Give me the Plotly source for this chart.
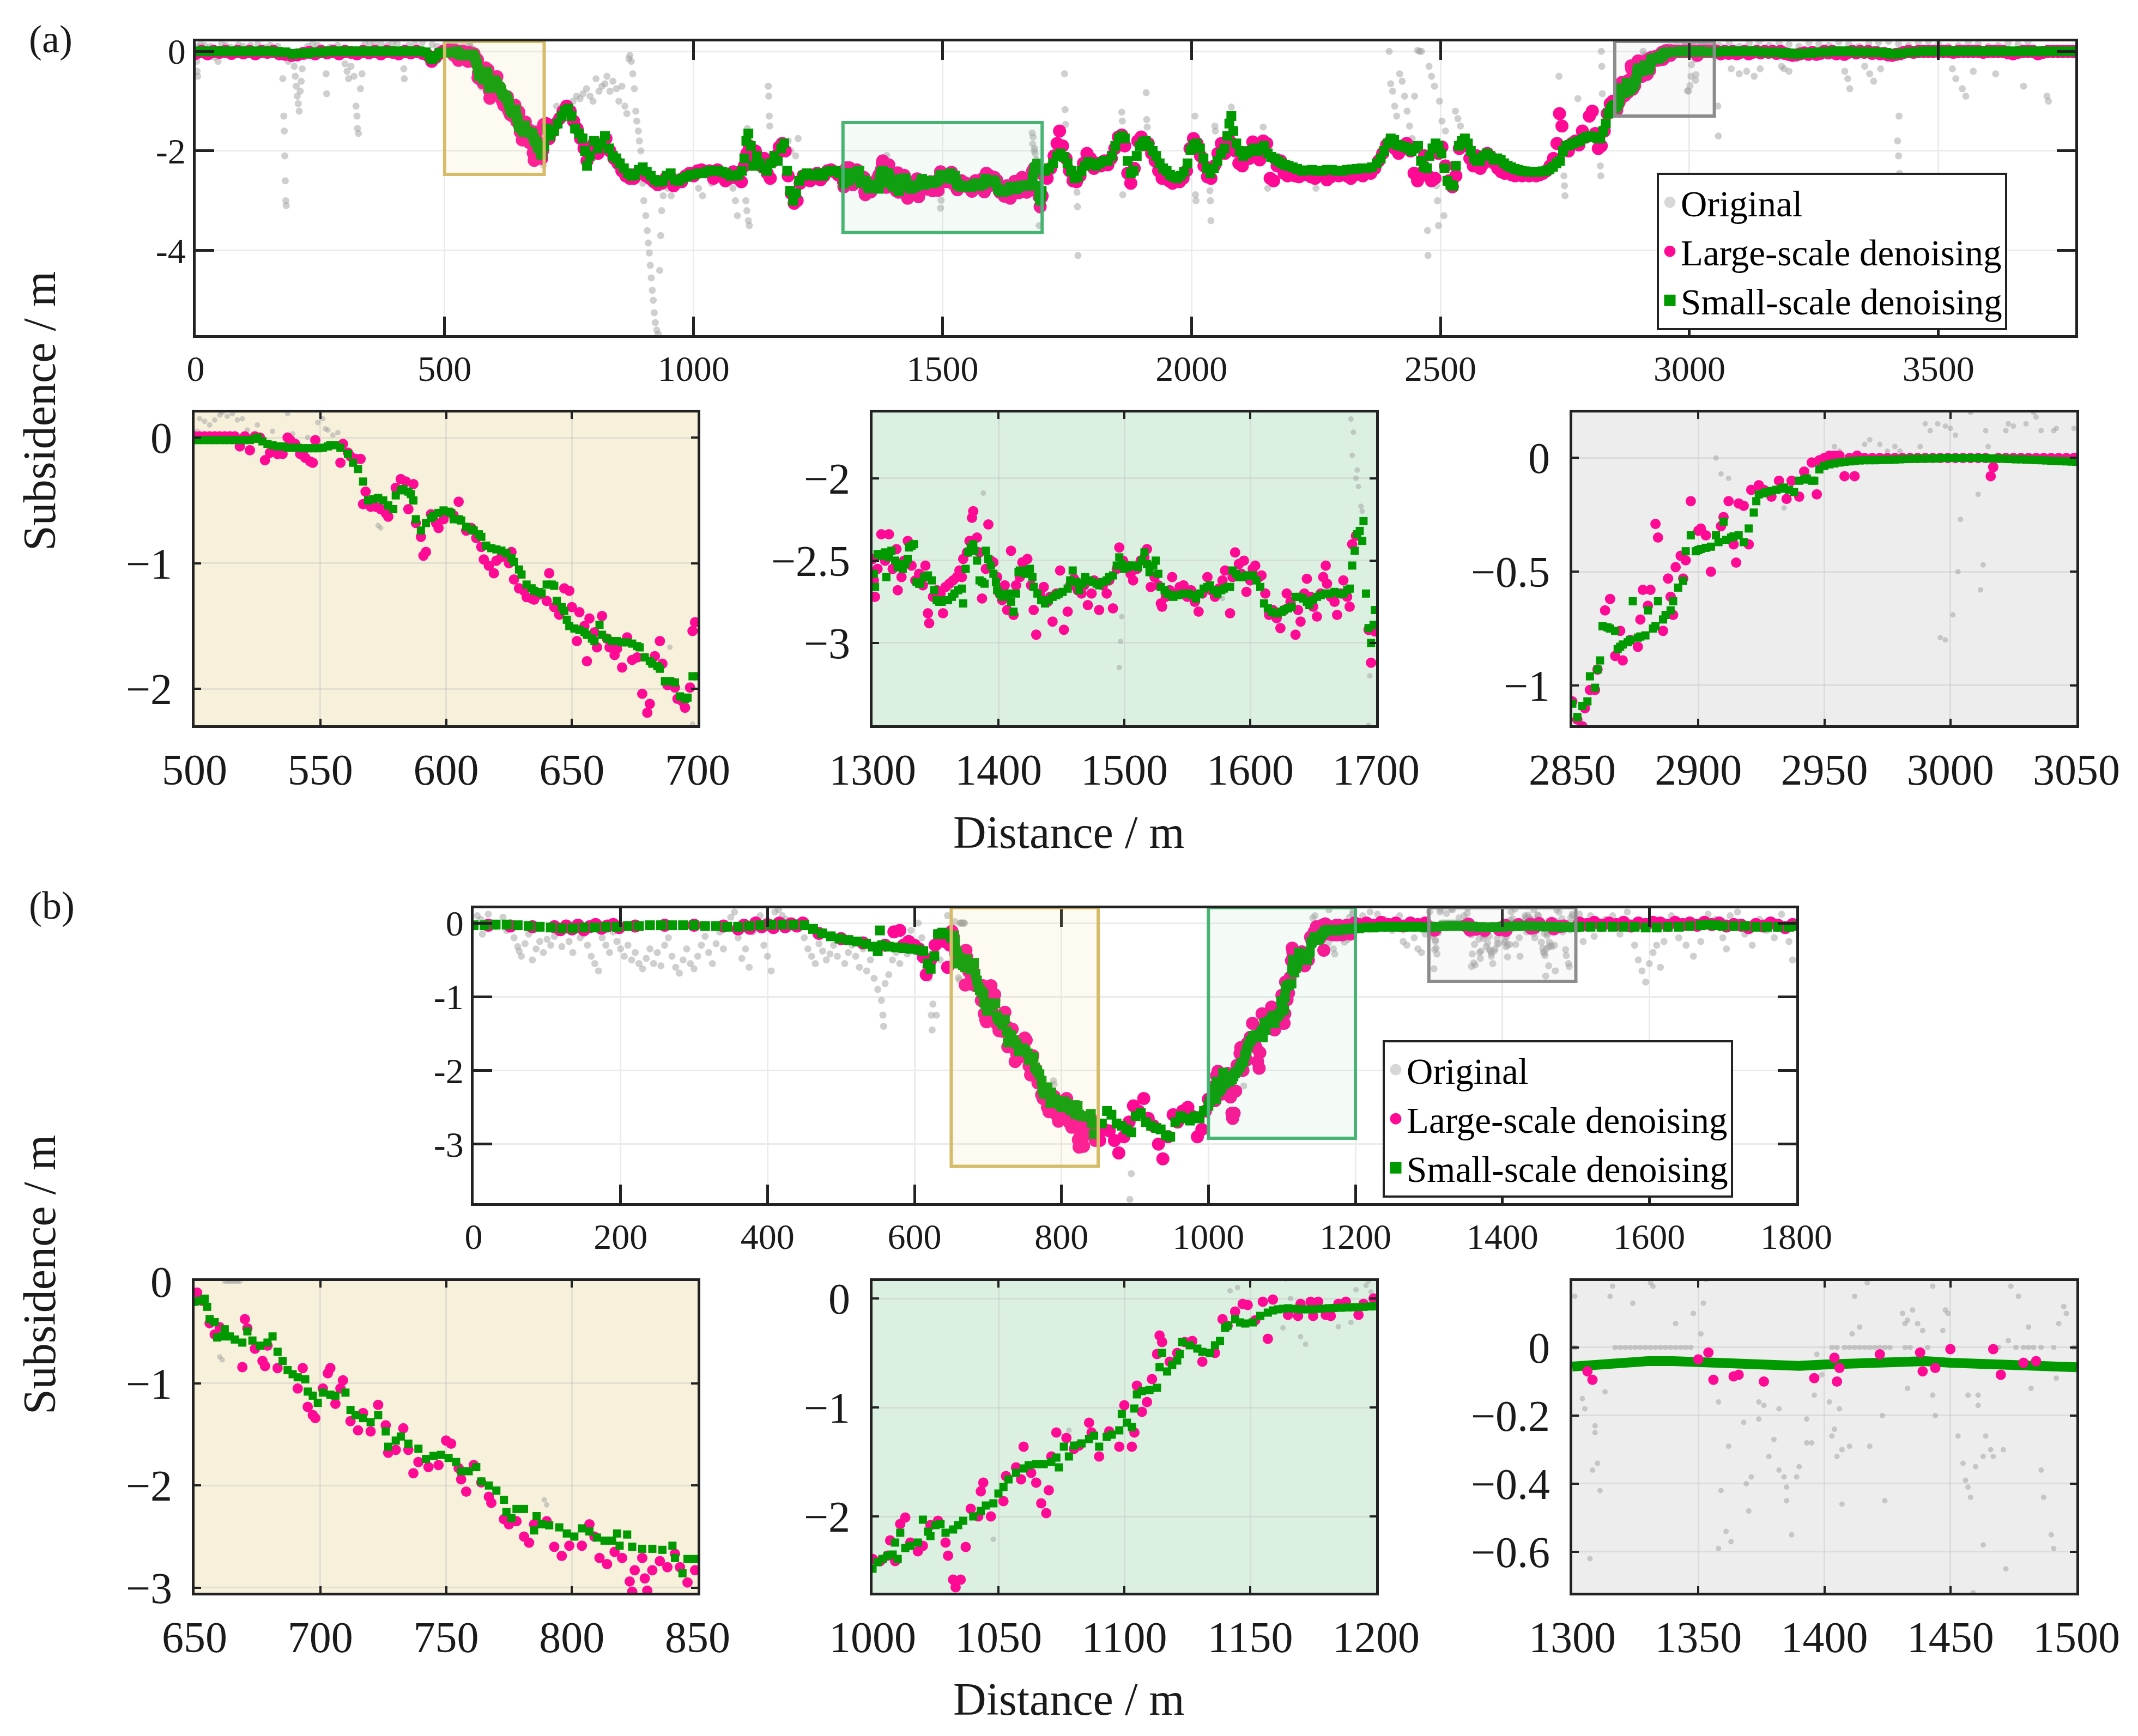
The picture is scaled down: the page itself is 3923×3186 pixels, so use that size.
import plotly.graph_objects as go

W, H = 3923, 3186
FONT = "Liberation Serif"
PINK = "#FF0A94"
GREEN = "#009A00"
GREY = "rgba(160,160,160,0.5)"
INK = "#1a1a1a"

LEGEND_LABELS = ["Original", "Large-scale denoising", "Small-scale denoising"]

# ---------------- Panel (a): main profile (points outside the zoomed windows) ----------------
A_MAIN_GREEN = [(0,0.0),(15,0.0),(30,0.0),(45,0.0),(60,0.0),(75,0.0),(90,0.0),(105,0.0),(120,0.0),(135,0.0),(150,0.0),(165,-0.01),(180,-0.02),(195,-0.05),(210,-0.04),(225,-0.03),(240,-0.02),(255,-0.01),(270,0.0),(285,0.0),(300,0.0),(315,0.0),(330,0.0),(345,0.0),(360,0.0),(375,0.0),(390,0.0),(405,0.0),(420,0.0),(435,0.0),(450,0.0),(462,-0.02),(470,-0.1),(475,-0.16),(482,-0.1),(490,-0.03),
(705,-1.55),(712,-1.7),(720,-1.6),(727,-1.45),(735,-1.3),(742,-1.2),(748,-1.15),(755,-1.3),(762,-1.55),(770,-1.65),(777,-1.75),(782,-2.0),(786,-2.3),(792,-2.1),(800,-1.8),(808,-1.95),(815,-1.85),(822,-1.7),(830,-1.95),(838,-2.1),(845,-2.15),(852,-2.25),(860,-2.35),(868,-2.45),(875,-2.5),(882,-2.48),(890,-2.38),(898,-2.33),(906,-2.42),(914,-2.5),(922,-2.58),(930,-2.62),(938,-2.6),(946,-2.5),(954,-2.45),(962,-2.58),(970,-2.6),(978,-2.55),(986,-2.52),(994,-2.48),(1002,-2.47),(1010,-2.45),(1018,-2.45),(1026,-2.42),(1034,-2.4),(1042,-2.4),(1050,-2.4),(1058,-2.42),(1066,-2.45),(1074,-2.5),(1082,-2.5),(1090,-2.48),(1097,-2.4),(1102,-2.15),(1106,-1.8),(1110,-1.65),(1115,-1.9),(1120,-2.3),(1127,-2.1),(1134,-2.25),(1141,-2.35),(1148,-2.4),(1155,-2.25),(1162,-2.1),(1169,-2.2),(1176,-1.95),(1182,-1.85),(1188,-2.4),(1194,-2.8),(1200,-3.0),(1206,-2.85),(1212,-2.6),(1220,-2.5),(1228,-2.45),(1236,-2.48),(1244,-2.5),(1252,-2.45),(1260,-2.5),(1268,-2.42),(1276,-2.4),(1284,-2.4),(1292,-2.45),
(1706,-2.4),(1714,-2.35),(1722,-2.25),(1730,-2.1),(1737,-2.05),(1744,-2.12),(1751,-2.25),(1758,-2.4),(1765,-2.55),(1772,-2.52),(1779,-2.4),(1786,-2.3),(1793,-2.22),(1800,-2.25),(1808,-2.3),(1816,-2.25),(1824,-2.2),(1832,-2.2),(1840,-2.1),(1847,-1.9),(1854,-1.75),(1860,-1.7),(1866,-1.75),(1872,-2.2),(1878,-2.45),(1884,-2.4),(1890,-2.1),(1896,-1.9),(1902,-1.82),(1908,-1.8),(1915,-1.9),(1922,-2.0),(1929,-2.1),(1936,-2.25),(1943,-2.35),(1950,-2.4),(1957,-2.48),(1964,-2.52),(1971,-2.55),(1978,-2.5),(1985,-2.42),(1992,-2.25),(1998,-1.98),(2004,-1.88),(2010,-1.85),(2017,-1.95),(2024,-2.15),(2031,-2.35),(2038,-2.45),(2045,-2.35),(2052,-2.2),(2059,-2.05),(2066,-1.95),(2072,-1.7),(2076,-1.45),(2080,-1.3),(2084,-1.6),(2090,-1.85),(2097,-2.0),(2104,-2.1),(2111,-2.05),(2118,-2.0),(2125,-1.95),(2132,-2.0),(2139,-1.95),(2146,-1.9),(2153,-2.05),(2160,-2.12),(2167,-2.15),(2174,-2.2),(2181,-2.25),(2188,-2.28),(2195,-2.3),(2203,-2.33),(2212,-2.36),(2222,-2.4),(2232,-2.39),(2242,-2.38),(2252,-2.4),(2262,-2.4),(2272,-2.38),(2282,-2.38),(2292,-2.4),(2302,-2.4),(2312,-2.38),(2322,-2.37),(2332,-2.36),(2342,-2.35),(2352,-2.35),(2362,-2.33),(2372,-2.25),(2380,-2.15),(2387,-2.0),(2394,-1.85),(2400,-1.75),(2407,-1.78),(2414,-1.88),(2421,-1.9),(2428,-1.92),(2435,-1.95),(2442,-2.0),(2449,-1.95),(2455,-1.9),(2461,-2.2),(2467,-2.32),(2473,-2.35),(2478,-2.1),(2484,-1.95),(2490,-1.85),(2496,-1.9),(2502,-2.05),(2508,-2.35),(2514,-2.6),(2520,-2.68),(2526,-2.7),(2531,-2.3),(2537,-1.9),(2543,-1.8),(2549,-1.75),(2555,-1.85),(2561,-2.0),(2567,-2.15),(2573,-2.2),(2579,-2.2),(2586,-2.1),(2593,-2.05),(2600,-2.1),(2607,-2.18),(2614,-2.15),(2621,-2.18),(2628,-2.25),(2635,-2.3),(2642,-2.33),(2649,-2.36),(2656,-2.38),(2663,-2.4),(2670,-2.41),(2677,-2.42),(2684,-2.42),(2691,-2.42),(2698,-2.42),(2705,-2.41),(2712,-2.4),(2719,-2.37),(2726,-2.32),(2733,-2.25),(2740,-2.2),(2746,-2.0),(2752,-1.9),(2759,-1.88),(2766,-1.85),(2773,-1.82),(2780,-1.8),(2787,-1.75),(2794,-1.72),(2801,-1.7),(2808,-1.72),(2815,-1.75),(2821,-1.75),(2827,-1.6),(2832,-1.45),(2837,-1.25),(2842,-1.15),(2846,-1.1),
(3055,-0.01),(3070,0.0),(3085,0.0),(3100,0.0),(3115,0.0),(3130,0.0),(3145,-0.01),(3160,-0.02),(3175,-0.02),(3190,-0.03),(3200,-0.04),(3210,-0.05),(3220,-0.05),(3230,-0.04),(3245,-0.03),(3260,-0.02),(3275,-0.01),(3290,0.0),(3305,0.0),(3320,0.0),(3335,-0.01),(3350,-0.01),(3365,-0.02),(3380,-0.02),(3395,-0.03),(3405,-0.05),(3415,-0.05),(3425,-0.04),(3440,-0.02),(3455,-0.01),(3470,0.0),(3485,0.0),(3500,0.0),(3515,0.0),(3530,0.0),(3545,0.0),(3560,0.0),(3575,0.0),(3590,0.0),(3605,0.0),(3620,0.0),(3635,0.0),(3650,0.0),(3665,0.0),(3680,0.0),(3695,0.0),(3710,0.0),(3725,0.0),(3740,0.0),(3755,0.0),(3770,0.0),(3780,0.0)]

A_MAIN_PINK = [(0,-0.04),(12,0.0),(24,-0.05),(36,0.0),(48,-0.02),(60,0.0),(72,-0.04),(84,0.0),(96,-0.03),(108,0.0),(120,-0.05),(132,0.0),(144,-0.02),(156,0.0),(168,-0.05),(180,-0.06),(192,-0.08),(204,-0.07),(216,-0.04),(228,-0.02),(240,-0.05),(252,0.0),(264,-0.03),(276,0.0),(288,-0.05),(300,0.0),(312,-0.02),(324,-0.05),(336,0.0),(348,-0.03),(360,0.0),(372,-0.05),(384,0.0),(396,-0.02),(408,-0.05),(420,0.0),(432,-0.03),(444,0.0),(456,-0.04),(466,-0.08),(474,-0.2),(482,-0.12),(490,-0.04),(497,0.0),
(704,-1.45),(710,-1.75),(717,-1.6),(724,-1.45),(731,-1.35),(738,-1.2),(745,-1.1),(752,-1.2),(759,-1.4),(766,-1.55),(773,-1.75),(780,-1.95),(786,-2.2),(793,-2.0),(800,-1.85),(808,-2.05),(816,-1.9),(824,-1.75),(832,-2.0),(840,-2.15),(848,-2.25),(856,-2.4),(864,-2.5),(872,-2.55),(880,-2.55),(888,-2.45),(896,-2.4),(904,-2.5),(912,-2.55),(920,-2.62),(928,-2.68),(936,-2.65),(944,-2.55),(952,-2.5),(960,-2.7),(968,-2.6),(976,-2.62),(984,-2.5),(992,-2.45),(1000,-2.5),(1008,-2.4),(1016,-2.38),(1024,-2.42),(1032,-2.4),(1040,-2.55),(1048,-2.38),(1056,-2.5),(1064,-2.6),(1072,-2.55),(1080,-2.42),(1088,-2.55),(1096,-2.62),(1102,-2.3),(1107,-2.05),(1112,-1.9),(1118,-2.2),(1124,-2.0),(1130,-2.12),(1136,-2.3),(1142,-2.15),(1148,-2.45),(1154,-2.55),(1160,-2.2),(1166,-2.1),(1172,-1.92),(1178,-1.85),(1184,-2.0),(1190,-2.5),(1196,-2.85),(1202,-3.05),(1208,-3.0),(1214,-2.65),(1220,-2.5),(1227,-2.52),(1234,-2.6),(1241,-2.55),(1248,-2.45),(1255,-2.58),(1262,-2.5),(1269,-2.4),(1276,-2.38),(1283,-2.42),(1290,-2.48),(1296,-2.45),
(1704,-2.5),(1710,-2.55),(1717,-2.35),(1724,-2.1),(1730,-1.85),(1735,-1.6),(1741,-1.9),(1748,-2.15),(1755,-2.4),(1762,-2.6),(1769,-2.62),(1776,-2.5),(1783,-2.25),(1790,-2.05),(1797,-2.15),(1804,-2.35),(1811,-2.25),(1818,-2.3),(1825,-2.2),(1832,-2.28),(1839,-2.15),(1846,-1.95),(1853,-1.72),(1860,-1.68),(1866,-1.9),(1872,-2.45),(1878,-2.65),(1885,-2.35),(1892,-1.8),(1899,-1.72),(1906,-1.88),(1913,-1.85),(1920,-2.05),(1927,-2.2),(1934,-2.4),(1941,-2.55),(1948,-2.5),(1955,-2.6),(1962,-2.65),(1969,-2.6),(1976,-2.62),(1983,-2.55),(1990,-2.4),(1997,-1.95),(2004,-1.75),(2011,-1.85),(2018,-2.1),(2025,-2.3),(2032,-2.52),(2039,-2.55),(2046,-2.3),(2053,-2.05),(2060,-1.85),(2067,-2.05),(2074,-1.75),(2081,-1.85),(2088,-2.0),(2095,-2.25),(2102,-2.3),(2109,-2.05),(2116,-2.15),(2123,-1.82),(2130,-2.05),(2137,-2.18),(2144,-1.8),(2151,-1.85),(2158,-2.55),(2165,-2.6),(2172,-2.3),(2179,-2.2),(2186,-2.45),(2193,-2.5),(2200,-2.42),(2208,-2.5),(2216,-2.52),(2224,-2.48),(2232,-2.45),(2240,-2.52),(2248,-2.55),(2256,-2.45),(2264,-2.5),(2272,-2.58),(2280,-2.52),(2288,-2.48),(2296,-2.5),(2304,-2.45),(2312,-2.5),(2320,-2.55),(2328,-2.48),(2336,-2.45),(2344,-2.5),(2352,-2.42),(2360,-2.45),(2368,-2.35),(2376,-2.2),(2384,-2.05),(2392,-1.88),(2400,-1.8),(2408,-1.95),(2416,-2.05),(2424,-1.9),(2432,-1.85),(2440,-2.0),(2447,-2.45),(2454,-2.6),(2461,-2.45),(2468,-2.1),(2475,-2.5),(2482,-2.6),(2489,-2.55),(2496,-2.05),(2503,-1.92),(2510,-2.3),(2517,-2.6),(2524,-2.72),(2531,-2.5),(2538,-1.95),(2545,-1.82),(2552,-1.9),(2559,-2.15),(2566,-2.3),(2573,-2.1),(2580,-2.35),(2587,-2.25),(2594,-2.05),(2601,-2.12),(2608,-2.25),(2615,-2.35),(2622,-2.42),(2629,-2.45),(2636,-2.42),(2643,-2.48),(2650,-2.5),(2657,-2.45),(2664,-2.5),(2671,-2.48),(2678,-2.5),(2685,-2.47),(2692,-2.5),(2699,-2.48),(2706,-2.45),(2713,-2.4),(2720,-2.3),(2727,-2.15),(2734,-1.85),(2739,-1.25),(2744,-1.5),(2750,-1.95),(2757,-2.0),(2764,-1.85),(2771,-1.8),(2778,-1.88),(2785,-1.6),(2792,-1.72),(2799,-1.3),(2805,-1.2),(2811,-1.65),(2817,-1.95),(2823,-1.9),(2829,-1.6),(2835,-1.25),(2841,-1.05),(2846,-1.0),
(3055,0.0),(3063,-0.05),(3071,0.0),(3079,-0.04),(3087,0.0),(3095,-0.05),(3103,-0.02),(3111,0.0),(3119,-0.05),(3127,-0.02),(3135,0.0),(3143,-0.03),(3151,0.0),(3159,-0.02),(3167,0.0),(3175,-0.04),(3183,0.0),(3191,-0.04),(3199,-0.06),(3207,-0.08),(3215,-0.07),(3223,-0.05),(3231,-0.03),(3239,-0.06),(3247,-0.02),(3255,-0.06),(3263,-0.04),(3271,0.0),(3279,-0.03),(3287,0.0),(3295,-0.05),(3303,-0.03),(3311,-0.06),(3319,-0.02),(3327,0.0),(3335,-0.03),(3343,0.0),(3351,-0.02),(3359,0.0),(3367,-0.04),(3375,-0.02),(3383,-0.05),(3391,-0.04),(3399,-0.07),(3407,-0.08),(3415,-0.06),(3423,-0.05),(3431,-0.02),(3440,0.0),(3450,-0.02),(3460,0.0),(3470,0.0),(3480,0.0),(3490,0.0),(3500,0.0),(3510,0.0),(3520,0.0),(3530,-0.02),(3540,0.0),(3550,0.0),(3560,0.0),(3570,0.0),(3580,0.0),(3590,-0.02),(3600,0.0),(3610,0.0),(3620,0.0),(3630,0.0),(3640,-0.03),(3650,-0.05),(3660,-0.02),(3670,0.0),(3680,0.0),(3690,0.0),(3700,-0.05),(3710,-0.02),(3720,0.0),(3730,0.0),(3740,0.0),(3750,0.0),(3760,0.0),(3770,0.0),(3780,0.0)]

A_MAIN_GREY = [(2,-0.2),(3,-0.4),(4,-0.5),(6,0.1),(10,0.15),(18,0.12),(25,0.05),(30,0.1),(38,-0.12),(45,-0.2),(52,0.15),(60,0.12),(70,0.08),(86,0.13),(95,0.1),(110,0.12),(125,0.15),(140,0.08),(150,0.12),(165,0.1),(175,-0.55),(177,-1.3),(178,-1.6),(179,-2.1),(180,-2.6),(181,-3.0),(182,-3.1),(186,-0.2),(195,-0.15),(198,-0.3),(200,-0.5),(202,-0.7),(204,-0.9),(206,-1.05),(208,-1.2),(210,-0.8),(212,-0.6),(214,-0.35),(225,0.1),(235,0.15),(245,0.12),(262,-0.45),(263,-0.85),(270,0.08),(285,0.12),(300,-0.25),(304,-0.4),(307,-0.55),(312,-0.3),(318,-0.5),(322,-1.1),(324,-1.3),(325,-1.55),(327,-1.65),(331,-0.75),(334,-0.45),(340,0.15),(350,0.18),(360,0.14),(372,0.15),(385,0.12),(395,0.18),(405,0.15),(418,-0.35),(419,-0.55),(428,0.12),(440,0.15),(455,0.18),(469,-0.2),(475,0.14),(485,0.1),
(725,-1.1),(740,-1.35),(750,-1.25),(758,-1.0),(765,-0.9),(772,-0.95),(778,-0.85),(785,-0.75),(792,-0.9),(798,-1.0),(804,-0.55),(810,-0.8),(816,-0.7),(822,-0.65),(826,-0.5),(832,-0.8),(838,-0.6),(845,-0.75),(850,-1.0),(856,-0.7),(862,-1.1),(866,-1.25),(870,-0.15),(872,-0.08),(875,-0.2),(878,-0.45),(881,-0.75),(884,-1.2),(886,-1.4),(889,-1.6),(891,-1.8),(894,-2.0),(898,-2.65),(900,-3.0),(904,-3.3),(907,-3.6),(909,-3.85),(911,-4.05),(913,-4.3),(915,-4.55),(917,-4.8),(919,-5.0),(921,-5.25),(923,-5.45),(926,-5.6),(929,-5.68),(932,-4.4),(934,-3.7),(936,-3.2),(939,-2.9),(943,-2.7),(948,-2.75),(955,-2.9),(1010,-2.75),(1018,-2.9),(1036,-2.65),(1079,-2.75),(1084,-3.0),(1088,-3.3),(1092,-2.55),(1105,-3.0),(1107,-3.2),(1110,-3.4),(1112,-3.5),(1108,-1.55),(1150,-0.7),(1151,-0.9),(1152,-1.3),(1153,-1.5),(1190,-1.8),(1195,-2.0),(1205,-2.1),(1210,-1.75),
(1745,-0.45),(1746,-1.17),(1747,-1.47),(1770,-2.83),(1771,-3.12),(1772,-4.1),(1860,-1.22),(1861,-1.4),(1862,-2.88),(1909,-0.83),(1910,-1.37),(1911,-1.52),(2007,-1.3),(2008,-2.88),(2009,-3.0),(2037,-2.8),(2038,-3.0),(2039,-3.4),(2047,-1.5),(2048,-1.6),(2080,-1.12),(2144,-1.52),(2153,-2.75),(2250,-2.75),(2397,0.0),(2400,-0.65),(2404,-0.8),(2408,-1.1),(2412,-1.3),(2418,-0.45),(2423,-0.6),(2428,-0.9),(2433,-1.2),(2438,-1.5),(2443,-1.75),(2448,-0.9),(2454,0.02),(2458,0.0),(2462,0.0),(2474,-3.6),(2475,-4.1),(2477,-0.3),(2482,-0.5),(2488,-0.7),(2492,-2.7),(2494,-3.0),(2496,-3.5),(2498,-1.0),(2503,-1.4),(2507,-3.3),(2510,-1.6),(2530,-1.2),(2535,-1.35),(2540,-1.5),(2738,-0.5),(2748,-2.5),(2749,-2.7),(2750,-2.9),(2776,-0.95),(2819,-2.0),(2821,-2.3),(2822,-2.5),(2823,0.0),(2824,-0.3),(2825,-0.85),
(3057,-1.1),(3058,-1.7),(3084,-0.35),(3100,-0.45),(3115,-0.4),(3130,-0.5),(3142,-0.35),(3185,-0.3),(3190,-0.35),(3200,-0.4),(3312,-0.4),(3318,-0.55),(3322,-0.75),(3352,-0.3),(3362,-0.45),(3370,-0.6),(3384,-0.35),(3421,-1.3),(3418,-1.8),(3420,-2.1),(3422,-2.45),(3528,-0.35),(3535,-0.55),(3548,-0.75),(3555,-0.9),(3570,-0.4),(3615,-0.45),(3671,-0.7),(3718,-0.9),(3721,-1.0),
(2960,0.1),(2975,0.15),(2990,0.18),(3010,0.2),(3030,0.15),(3060,0.12),(3080,0.18),(3100,0.1),(3120,0.16),(3140,0.2),(3160,0.12),(3180,0.17),(3200,0.14),(3220,0.1),(3240,0.18),(3260,0.15),(3280,0.12),(3300,0.19),(3320,0.15),(3340,0.1),(3360,0.16),(3380,0.18),(3400,0.2),(3420,0.15),(3440,0.12),(3460,0.18),(3480,0.2),(3500,0.15),(3520,0.1),(3540,0.12),(3560,0.18),(3580,0.15),(3600,0.1),(3620,0.12),(3640,0.17),(3660,0.14),(3680,0.19)]

# ---------------- Panel (a): zoom windows ----------------
A1_GREEN = [(500,-0.02),(502,-0.02),(504,-0.02),(506,-0.02),(508,-0.02),(510,-0.02),(512,-0.02),(514,-0.02),(516,-0.02),(518,-0.02),(520,-0.02),(522,-0.02),(524,-0.01),(525,0.0),(527,-0.03),(529,-0.05),(531,-0.06),(533,-0.07),(535,-0.07),(537,-0.08),(539,-0.08),(541,-0.08),(543,-0.085),(545,-0.085),(547,-0.085),(549,-0.085),(551,-0.08),(553,-0.07),(554,-0.06),(556,-0.06),(558,-0.08),(561,-0.13),(563,-0.2),(565,-0.25),(567,-0.35),(569,-0.5),(571,-0.49),(573,-0.48),(575,-0.5),(577,-0.54),(579,-0.57),(580,-0.46),(582,-0.42),(583,-0.41),(585,-0.43),(586,-0.45),(587,-0.5),(588,-0.65),(590,-0.74),(592,-0.68),(594,-0.64),(595,-0.62),(597,-0.6),(599,-0.58),(601,-0.59),(602,-0.6),(603,-0.65),(605,-0.65),(606,-0.66),(608,-0.71),(610,-0.73),(611,-0.74),(613,-0.77),(614,-0.79),(616,-0.86),(618,-0.88),(620,-0.89),(622,-0.9),(624,-0.92),(626,-0.96),(627,-0.99),(629,-1.05),(630,-1.09),(632,-1.17),(634,-1.2),(635,-1.22),(637,-1.23),(638,-1.24),(640,-1.17),(642,-1.17),(643,-1.18),(644,-1.3),(646,-1.35),(647,-1.38),(648,-1.45),(649,-1.5),(651,-1.52),(653,-1.53),(655,-1.55),(656,-1.57),(658,-1.6),(659,-1.62),(661,-1.49),(662,-1.57),(664,-1.6),(666,-1.62),(668,-1.62),(670,-1.63),(672,-1.63),(674,-1.64),(676,-1.66),(677,-1.67),(679,-1.75),(681,-1.78),(682,-1.8),(684,-1.82),(685,-1.84),(687,-1.94),(689,-1.94),(691,-1.95),(693,-2.06),(695,-2.08),(696,-2.07),(698,-1.9),(700,-1.9)]
A1_PINK = [(500,0.01),(502,0.01),(504,0.01),(506,0.01),(508,0.01),(510,0.01),(512,0.01),(514,0.01),(516,0.01),(518,-0.07),(520,0.01),(522,-0.1),(524,0.01),(526,0.0),(528,-0.18),(530,-0.12),(531,-0.1),(533,-0.13),(535,-0.13),(537,0.0),(538,-0.02),(540,-0.05),(542,-0.13),(543,-0.12),(544,-0.16),(546,-0.19),(547,-0.2),(548,-0.02),(558,-0.2),(559,-0.05),(561,-0.12),(562,-0.15),(564,-0.17),(566,-0.17),(567,-0.53),(568,-0.43),(570,-0.55),(572,-0.55),(574,-0.57),(576,-0.6),(577,-0.63),(580,-0.4),(582,-0.33),(584,-0.35),(585,-0.57),(587,-0.37),(588,-0.68),(590,-0.79),(591,-0.94),(592,-0.91),(594,-0.61),(596,-0.68),(597,-0.72),(599,-0.65),(602,-0.6),(603,-0.62),(605,-0.51),(608,-0.74),(610,-0.72),(612,-0.8),(614,-0.87),(615,-0.97),(617,-1.02),(619,-1.08),(620,-0.98),(622,-0.95),(623,-0.93),(625,-1.0),(626,-0.91),(627,-1.13),(629,-1.2),(631,-1.22),(632,-1.27),(634,-1.28),(635,-1.29),(637,-1.25),(640,-1.3),(641,-1.08),(643,-1.35),(645,-1.41),(647,-1.2),(649,-1.22),(650,-1.35),(652,-1.62),(653,-1.39),(655,-1.5),(656,-1.78),(657,-1.44),(659,-1.55),(660,-1.67),(662,-1.42),(664,-1.6),(665,-1.67),(667,-1.73),(668,-1.68),(670,-1.83),(672,-1.59),(674,-1.77),(676,-1.75),(678,-2.04),(680,-2.19),(681,-2.12),(683,-1.74),(685,-1.62),(686,-1.8),(688,-1.97),(690,-1.95),(691,-1.99),(692,-2.08),(694,-2.1),(695,-2.15),(697,-1.99),(698,-1.54),(699,-1.47)]
A1_GREY = [(501,0.05),(502,0.15),(504,0.13),(506,0.1),(508,0.14),(510,0.18),(511,0.2),(513,0.17),(515,0.19),(517,0.14),(519,0.15),(521,0.06),(525,0.1),(531,0.05),(537,0.19),(539,0.03),(545,0.0),(549,0.12),(551,0.15),(552,0.07),(553,0.06),(555,0.02),(557,0.04),(573,-0.7),(574,-0.72),(689,-1.67),(698,-2.28)]

A2_GREEN = [(1301,-2.58),(1302,-2.66),(1304,-2.46),(1307,-2.47),(1310,-2.45),(1311,-2.6),(1313,-2.48),(1315,-2.44),(1318,-2.5),(1320,-2.54),(1322,-2.52),(1324,-2.55),(1326,-2.52),(1328,-2.49),(1329,-2.42),(1331,-2.41),(1333,-2.4),(1335,-2.63),(1337,-2.64),(1338,-2.64),(1341,-2.6),(1344,-2.59),(1347,-2.62),(1349,-2.68),(1351,-2.74),(1353,-2.75),(1355,-2.75),(1358,-2.74),(1360,-2.74),(1363,-2.72),(1365,-2.7),(1368,-2.68),(1371,-2.67),(1372,-2.76),(1374,-2.55),(1376,-2.45),(1378,-2.42),(1380,-2.4),(1381,-2.44),(1383,-2.5),(1385,-2.62),(1387,-2.63),(1389,-2.64),(1390,-2.44),(1392,-2.49),(1394,-2.53),(1396,-2.58),(1398,-2.63),(1399,-2.68),(1401,-2.7),(1403,-2.72),(1406,-2.71),(1408,-2.7),(1410,-2.75),(1412,-2.81),(1414,-2.7),(1416,-2.57),(1417,-2.56),(1419,-2.57),(1421,-2.58),(1423,-2.56),(1425,-2.55),(1427,-2.6),(1428,-2.66),(1431,-2.7),(1434,-2.74),(1437,-2.76),(1440,-2.74),(1443,-2.72),(1446,-2.71),(1448,-2.7),(1451,-2.69),(1455,-2.67),(1457,-2.62),(1459,-2.56),(1462,-2.63),(1464,-2.68),(1467,-2.64),(1469,-2.6),(1472,-2.62),(1475,-2.63),(1478,-2.64),(1480,-2.65),(1483,-2.63),(1486,-2.62),(1488,-2.6),(1491,-2.59),(1494,-2.53),(1496,-2.48),(1498,-2.52),(1500,-2.55),(1503,-2.54),(1505,-2.53),(1508,-2.53),(1511,-2.54),(1514,-2.5),(1516,-2.45),(1518,-2.52),(1520,-2.57),(1523,-2.53),(1525,-2.5),(1527,-2.58),(1529,-2.66),(1532,-2.68),(1534,-2.7),(1537,-2.71),(1539,-2.72),(1543,-2.71),(1547,-2.7),(1551,-2.7),(1554,-2.71),(1557,-2.73),(1560,-2.7),(1563,-2.67),(1566,-2.66),(1568,-2.65),(1571,-2.68),(1574,-2.7),(1577,-2.68),(1579,-2.67),(1582,-2.66),(1584,-2.66),(1586,-2.56),(1589,-2.58),(1591,-2.6),(1594,-2.6),(1597,-2.59),(1600,-2.59),(1602,-2.59),(1605,-2.62),(1608,-2.66),(1611,-2.76),(1614,-2.79),(1617,-2.81),(1620,-2.82),(1622,-2.82),(1625,-2.81),(1627,-2.8),(1630,-2.79),(1633,-2.78),(1636,-2.72),(1639,-2.72),(1642,-2.73),(1645,-2.75),(1647,-2.77),(1650,-2.74),(1653,-2.72),(1656,-2.71),(1660,-2.7),(1663,-2.7),(1667,-2.69),(1671,-2.7),(1674,-2.7),(1677,-2.68),(1679,-2.67),(1681,-2.53),(1683,-2.44),(1685,-2.34),(1687,-2.32),(1689,-2.38),(1690,-2.26),(1692,-2.7),(1694,-2.91),(1696,-3.0),(1698,-2.89),(1699,-2.8)]
A2_PINK = [(1300,-2.49),(1301,-2.62),(1302,-2.72),(1304,-2.55),(1307,-2.34),(1310,-2.5),(1313,-2.34),(1316,-2.55),(1319,-2.43),(1320,-2.68),(1323,-2.6),(1325,-2.5),(1328,-2.38),(1331,-2.53),(1334,-2.62),(1337,-2.58),(1340,-2.65),(1342,-2.53),(1344,-2.82),(1345,-2.88),(1348,-2.72),(1351,-2.68),(1354,-2.7),(1356,-2.82),(1358,-2.66),(1361,-2.64),(1364,-2.62),(1367,-2.6),(1369,-2.56),(1371,-2.6),(1372,-2.49),(1375,-2.45),(1377,-2.38),(1379,-2.24),(1380,-2.2),(1383,-2.36),(1385,-2.45),(1387,-2.73),(1390,-2.55),(1392,-2.28),(1394,-2.5),(1396,-2.51),(1399,-2.6),(1401,-2.7),(1403,-2.74),(1405,-2.65),(1407,-2.8),(1410,-2.44),(1412,-2.83),(1414,-2.65),(1417,-2.6),(1419,-2.51),(1421,-2.55),(1423,-2.49),(1426,-2.65),(1428,-2.8),(1430,-2.95),(1433,-2.7),(1436,-2.66),(1439,-2.75),(1441,-2.72),(1443,-2.87),(1446,-2.7),(1449,-2.56),(1452,-2.92),(1455,-2.81),(1457,-2.65),(1460,-2.61),(1463,-2.68),(1466,-2.7),(1468,-2.65),(1471,-2.77),(1474,-2.7),(1476,-2.62),(1480,-2.8),(1483,-2.65),(1486,-2.7),(1488,-2.62),(1491,-2.79),(1494,-2.55),(1496,-2.42),(1499,-2.5),(1502,-2.53),(1505,-2.58),(1507,-2.62),(1510,-2.55),(1513,-2.5),(1516,-2.48),(1518,-2.43),(1521,-2.66),(1524,-2.6),(1527,-2.65),(1529,-2.76),(1530,-2.78),(1533,-2.72),(1536,-2.68),(1538,-2.6),(1541,-2.7),(1544,-2.66),(1547,-2.65),(1550,-2.72),(1553,-2.68),(1556,-2.75),(1559,-2.81),(1562,-2.7),(1566,-2.6),(1569,-2.68),(1572,-2.72),(1575,-2.67),(1578,-2.62),(1580,-2.56),(1584,-2.82),(1586,-2.6),(1588,-2.45),(1591,-2.52),(1593,-2.58),(1595,-2.5),(1597,-2.69),(1600,-2.62),(1602,-2.55),(1604,-2.53),(1607,-2.6),(1609,-2.59),(1612,-2.7),(1615,-2.83),(1618,-2.8),(1621,-2.85),(1624,-2.91),(1627,-2.8),(1629,-2.7),(1632,-2.75),(1636,-2.95),(1638,-2.8),(1640,-2.87),(1643,-2.7),(1645,-2.61),(1648,-2.72),(1650,-2.78),(1653,-2.84),(1656,-2.7),(1658,-2.6),(1660,-2.53),(1661,-2.64),(1664,-2.72),(1667,-2.75),(1669,-2.83),(1672,-2.7),(1674,-2.62),(1677,-2.72),(1679,-2.78),(1681,-2.4),(1684,-2.35),(1694,-2.92),(1696,-3.12),(1699,-2.93),(1700,-2.9)]
A2_GREY = [(1388,-2.09),(1498,-2.84),(1497,-2.99),(1496,-3.15),(1578,-2.73),(1680,-1.64),(1682,-1.72),(1681,-1.86),(1685,-1.95),(1684,-2.0),(1686,-2.05),(1688,-2.17),(1689,-2.2),(1695,-3.2),(1694,-3.5)]

A3_GREEN = [(2850,-1.08),(2852,-1.14),(2854,-1.09),(2856,-1.07),(2857,-0.96),(2859,-1.01),(2860,-0.93),(2861,-0.89),(2862,-0.74),(2864,-0.745),(2865,-0.75),(2867,-0.76),(2868,-0.84),(2869,-0.83),(2870,-0.82),(2872,-0.81),(2873,-0.8),(2874,-0.63),(2876,-0.79),(2877,-0.785),(2879,-0.78),(2880,-0.67),(2882,-0.75),(2883,-0.74),(2884,-0.63),(2886,-0.71),(2887,-0.69),(2889,-0.67),(2890,-0.63),(2892,-0.57),(2894,-0.54),(2895,-0.41),(2897,-0.34),(2899,-0.41),(2900,-0.405),(2901,-0.4),(2903,-0.395),(2905,-0.39),(2907,-0.34),(2908,-0.37),(2910,-0.28),(2911,-0.36),(2913,-0.35),(2914,-0.345),(2916,-0.34),(2918,-0.37),(2920,-0.31),(2922,-0.24),(2923,-0.19),(2924,-0.16),(2926,-0.155),(2927,-0.15),(2929,-0.145),(2931,-0.14),(2933,-0.135),(2934,-0.13),(2936,-0.14),(2938,-0.15),(2940,-0.1),(2942,-0.095),(2943,-0.09),(2945,-0.1),(2946,-0.1),(2948,-0.05),(2950,-0.035),(2952,-0.028),(2954,-0.024),(2956,-0.02),(2958,-0.017),(2960,-0.015),(2962,-0.013),(2964,-0.011),(2966,-0.01),(2968,-0.01),(2970,-0.01),(2972,-0.009),(2974,-0.008),(2976,-0.008),(2978,-0.007),(2980,-0.006),(2982,-0.005),(2984,-0.004),(2986,-0.004),(2988,-0.003),(2990,-0.003),(2992,-0.002),(2994,-0.002),(2996,-0.001),(2998,0.0),(3000,0.0),(3002,0.0),(3004,0.0),(3006,0.0),(3008,0.0),(3010,0.0),(3012,0.0),(3014,-0.001),(3016,-0.002),(3018,-0.002),(3020,-0.003),(3022,-0.004),(3024,-0.005),(3026,-0.006),(3028,-0.006),(3030,-0.007),(3032,-0.008),(3034,-0.009),(3036,-0.01),(3038,-0.011),(3040,-0.012),(3042,-0.013),(3044,-0.014),(3046,-0.015),(3048,-0.016),(3050,-0.017)]
A3_PINK = [(2850,-1.07),(2852,-1.15),(2854,-1.18),(2855,-1.1),(2857,-1.02),(2859,-1.02),(2860,-0.93),(2863,-0.67),(2865,-0.62),(2867,-0.87),(2869,-0.76),(2870,-0.89),(2873,-0.8),(2876,-0.83),(2877,-0.71),(2878,-0.58),(2880,-0.65),(2881,-0.58),(2883,-0.29),(2884,-0.35),(2886,-0.76),(2888,-0.53),(2889,-0.61),(2890,-0.69),(2891,-0.48),(2893,-0.43),(2894,-0.53),(2895,-0.45),(2897,-0.19),(2900,-0.32),(2901,-0.31),(2903,-0.34),(2905,-0.5),(2909,-0.3),(2910,-0.26),(2912,-0.19),(2914,-0.38),(2915,-0.46),(2916,-0.2),(2918,-0.21),(2920,-0.38),(2921,-0.14),(2924,-0.12),(2926,-0.14),(2929,-0.17),(2932,-0.1),(2935,-0.18),(2937,-0.1),(2940,-0.17),(2942,-0.06),(2945,-0.02),(2947,-0.16),(2948,-0.01),(2950,0.0),(2952,0.01),(2954,0.01),(2956,0.01),(2958,-0.08),(2960,0.0),(2962,-0.08),(2963,0.01),(2966,0.0),(2969,0.0),(2972,0.0),(2975,0.0),(2978,0.0),(2981,0.0),(2984,0.0),(2987,0.0),(2990,0.0),(2993,0.0),(2996,0.0),(2999,0.0),(3002,0.0),(3005,0.0),(3008,0.0),(3011,0.0),(3014,0.0),(3016,-0.08),(3017,-0.04),(3019,0.0),(3022,0.0),(3025,0.0),(3028,0.0),(3031,0.0),(3034,0.0),(3037,0.0),(3040,0.0),(3043,0.0),(3046,0.0),(3049,0.0),(3050,0.0)]
A3_GREY = [(2907,0.0),(2909,-0.07),(2912,-0.09),(2934,-0.22),(2954,0.05),(2956,0.03),(2966,0.06),(2968,0.08),(2972,0.06),(2975,0.03),(2978,0.05),(2980,0.03),(2985,0.0),(2988,0.05),(2990,0.15),(2992,0.12),(2995,0.15),(2998,0.14),(3000,0.13),(3002,0.1),(3008,0.2),(3014,0.12),(3025,0.14),(3034,0.18),(3036,0.12),(3049,0.13),(2996,-0.79),(2998,-0.8),(3001,-0.69),(3003,-0.5),(3004,-0.27),(3011,-0.16),(3012,-0.58),(3013,-0.47),(3015,0.05),(3022,0.12),(3023,0.15),(3030,0.15),(3033,0.2),(3041,0.12),(3042,0.13)]

# ---------------- Panel (b): main profile (points outside the zoomed windows) ----------------
B_MAIN_GREEN = [(0,-0.03),(15,-0.03),(30,-0.02),(45,-0.02),(60,-0.03),(75,-0.04),(90,-0.05),(105,-0.06),(120,-0.07),(135,-0.07),(150,-0.06),(165,-0.06),(180,-0.05),(195,-0.05),(210,-0.04),(225,-0.04),(240,-0.03),(255,-0.03),(270,-0.03),(285,-0.03),(300,-0.03),(315,-0.04),(330,-0.04),(345,-0.05),(360,-0.05),(375,-0.04),(390,-0.03),(405,-0.02),(420,-0.02),(435,-0.02),(450,-0.03),(462,-0.08),(474,-0.14),(486,-0.18),(498,-0.21),(510,-0.23),(522,-0.25),(534,-0.28),(543,-0.32),(550,-0.38),(553,-0.1),(556,-0.3),(565,-0.32),(575,-0.33),(585,-0.34),(595,-0.35),(605,-0.36),(612,-0.38),(618,-0.55),(622,-0.62),(627,-0.45),(632,-0.15),(638,-0.13),(644,-0.15),
(855,-2.72),(862,-2.55),(868,-2.6),(875,-2.72),(882,-2.75),(889,-2.8),(895,-2.84),(901,-2.62),(908,-2.58),(915,-2.7),(922,-2.75),(929,-2.78),(935,-2.8),(942,-2.88),(948,-2.9),(955,-2.7),(962,-2.62),(968,-2.65),(975,-2.68),(982,-2.62),(988,-2.65),(994,-2.55),
(1205,-0.07),(1215,-0.06),(1225,-0.06),(1235,-0.05),(1245,-0.05),(1255,-0.05),(1265,-0.05),(1275,-0.05),(1285,-0.05),(1295,-0.06),
(1505,-0.05),(1520,-0.05),(1535,-0.05),(1550,-0.05),(1565,-0.05),(1580,-0.05),(1595,-0.06),(1610,-0.06),(1625,-0.05),(1640,-0.05),(1655,-0.04),(1670,-0.03),(1680,-0.02),(1690,-0.03),(1700,-0.04),(1715,-0.04),(1730,-0.04),(1745,-0.05),(1760,-0.05),(1775,-0.05),(1790,-0.05),(1800,-0.04)]
B_MAIN_PINK = [(20,-0.03),(50,-0.04),(80,-0.05),(110,-0.05),(118,-0.09),(126,-0.04),(134,-0.08),(142,-0.03),(150,-0.09),(158,-0.05),(166,-0.02),(174,-0.07),(182,-0.04),(190,-0.02),(198,-0.06),(220,-0.04),(260,-0.03),(300,-0.03),(340,-0.04),
(360,-0.08),(368,-0.03),(376,-0.07),(384,0.0),(392,-0.05),(400,-0.02),(408,-0.06),(416,0.0),(424,-0.05),(432,-0.01),(440,-0.04),(448,0.0),
(470,-0.14),(500,-0.21),(530,-0.27),(560,-0.3),(572,-0.12),(580,-0.1),(585,-0.3),(592,-0.25),(600,-0.3),(606,-0.35),(612,-0.46),(616,-0.7),(622,-0.5),(628,-0.3),(634,-0.16),(640,-0.25),(645,-0.6),(648,-0.3),
(852,-2.95),(858,-2.8),(865,-2.82),(872,-2.95),(878,-3.12),(885,-2.9),(892,-2.7),(898,-2.48),(905,-2.55),(912,-2.38),(918,-2.65),(925,-2.75),(932,-3.0),(938,-3.2),(945,-2.9),(952,-2.6),(958,-2.7),(965,-2.55),(972,-2.5),(978,-2.62),(985,-2.9),(991,-2.8),(996,-2.55),
(1205,-0.02),(1215,0.0),(1225,-0.03),(1235,0.01),(1245,-0.02),(1255,0.0),(1265,-0.04),(1275,0.0),(1285,-0.02),(1295,0.0),
(1505,0.0),(1515,-0.02),(1525,0.01),(1535,-0.03),(1545,0.0),(1555,-0.02),(1565,0.01),(1575,-0.04),(1585,0.0),(1595,-0.02),(1605,0.01),(1615,0.0),(1625,-0.03),(1635,0.01),(1645,-0.02),(1655,0.0),(1665,-0.03),(1675,0.01),(1685,-0.02),(1695,0.0),(1705,-0.04),(1715,-0.02),(1725,-0.03),(1735,-0.06),(1745,-0.02),(1755,-0.04),(1765,0.0),(1775,-0.03),(1785,-0.06),(1795,-0.02)]
B_MAIN_GREY = [(5,0.1),(10,0.05),(12,-0.15),(20,0.12),(25,0.0),(30,-0.05),(40,0.08),(45,-0.1),(55,-0.2),(60,-0.32),(62,-0.38),(65,-0.45),(70,-0.28),(75,-0.15),(80,-0.5),(85,-0.35),(90,-0.25),(95,-0.4),(100,-0.22),(105,-0.3),(110,-0.18),(115,-0.12),(120,-0.32),(125,0.0),(130,-0.25),(135,-0.4),(140,-0.05),(145,-0.2),(150,-0.15),(155,-0.3),(160,-0.45),(165,-0.55),(170,-0.65),(175,-0.2),(180,-0.3),(185,-0.4),(190,-0.12),(195,-0.25),(200,-0.35),(205,-0.45),(210,-0.3),(215,-0.5),(220,-0.4),(225,-0.55),(230,-0.62),(235,-0.48),(240,-0.35),(245,-0.55),(250,-0.4),(255,-0.58),(260,-0.3),(265,-0.2),(270,-0.45),(275,-0.6),(280,-0.68),(285,-0.5),(290,-0.35),(295,-0.55),(300,-0.62),(305,-0.45),(310,-0.3),(315,-0.18),(320,-0.4),(325,-0.55),(330,-0.28),(335,-0.12),(340,-0.35),(345,-0.05),(350,0.08),(355,0.15),(360,-0.2),(365,-0.48),(370,-0.35),(375,-0.6),(380,-0.12),(385,0.05),(390,0.1),(395,-0.3),(400,-0.45),(405,-0.65),(410,0.15),(415,0.18),(420,0.1),(425,0.05),(430,0.0),(440,-0.08),(450,-0.2),(455,-0.35),(460,-0.45),(465,-0.55),(470,-0.28),(475,-0.38),(480,-0.5),(485,-0.42),(490,-0.3),(495,-0.45),(500,-0.25),(505,-0.55),(510,-0.4),(515,-0.3),(520,-0.45),(525,-0.6),(530,-0.35),(535,-0.65),(540,-0.5),(545,-0.75),(550,-0.9),(555,-1.05),(557,-1.25),(558,-1.4),(560,-0.82),(565,-0.7),(570,-0.5),(575,-0.4),(580,-0.55),(585,-0.25),(590,-0.42),(595,-0.1),(600,-0.3),(605,0.0),(610,-0.2),(615,-0.6),(620,-0.75),(623,-1.25),(624,-1.45),(625,-1.1),(630,-1.25),(635,-0.5),(645,0.1),(655,0.02),
(895,-3.4),(893,-3.75),
(1210,0.1),(1220,0.15),(1230,0.12),(1240,0.05),(1250,-0.1),(1260,0.1),(1265,-0.25),(1270,-0.3),(1280,-0.2),(1285,-0.35),(1290,-0.4),(1295,-0.15),(1505,0.12),(1510,-0.25),(1520,0.1),(1525,-0.18),(1540,0.05),(1550,0.1),(1560,-0.15),(1570,0.15),(1580,-0.3),(1585,-0.5),(1590,-0.65),(1595,-0.8),(1600,-0.55),(1605,-0.4),(1610,-0.3),(1615,-0.6),(1620,-0.25),(1630,0.1),(1640,-0.2),(1650,-0.3),(1660,-0.45),(1670,-0.25),(1680,0.12),(1690,0.05),(1700,-0.2),(1705,-0.35),(1710,0.1),(1720,0.15),(1730,-0.15),(1740,-0.3),(1750,0.05),(1760,-0.1),(1770,-0.2),(1780,0.12),(1790,-0.25),(1795,-0.5)]

# ---------------- Panel (b): zoom windows ----------------
B1_GREEN = [(650,-0.2),(652,-0.19),(654,-0.17),(655,-0.25),(656,-0.37),(658,-0.4),(659,-0.55),(661,-0.54),(662,-0.47),(664,-0.54),(666,-0.57),(669,-0.6),(671,-0.49),(673,-0.58),(676,-0.63),(679,-0.6),(681,-0.54),(683,-0.69),(685,-0.78),(687,-0.87),(689,-0.91),(691,-0.94),(694,-0.96),(695,-1.08),(697,-1.12),(699,-1.19),(701,-1.09),(704,-1.11),(706,-1.12),(710,-1.09),(712,-1.26),(714,-1.31),(717,-1.34),(720,-1.38),(723,-1.31),(726,-1.47),(727,-1.62),(730,-1.56),(732,-1.52),(735,-1.59),(739,-1.64),(742,-1.74),(745,-1.71),(748,-1.7),(751,-1.73),(754,-1.77),(756,-1.86),(759,-1.86),(762,-1.82),(764,-1.96),(767,-2.0),(770,-2.05),(773,-2.14),(774,-2.26),(776,-2.32),(778,-2.23),(781,-2.23),(785,-2.44),(786,-2.3),(788,-2.38),(791,-2.39),(795,-2.41),(798,-2.47),(801,-2.5),(804,-2.42),(807,-2.45),(810,-2.51),(813,-2.54),(816,-2.54),(818,-2.47),(819,-2.59),(822,-2.48),(824,-2.6),(828,-2.62),(832,-2.62),(836,-2.63),(840,-2.59),(841,-2.71),(844,-2.86),(846,-2.72),(849,-2.72)]
B1_PINK = [(651,-0.11),(653,-0.19),(656,-0.41),(658,-0.52),(660,-0.45),(669,-0.84),(670,-0.37),(671,-0.46),(674,-0.66),(677,-0.78),(678,-0.83),(679,-0.63),(683,-0.85),(691,-1.05),(693,-0.85),(695,-1.23),(697,-1.31),(698,-1.34),(701,-1.05),(703,-0.9),(704,-0.85),(706,-1.2),(708,-1.05),(709,-0.97),(712,-1.37),(715,-1.46),(717,-1.29),(720,-1.47),(723,-1.21),(726,-1.41),(727,-1.68),(730,-1.65),(733,-1.44),(735,-1.65),(737,-1.88),(739,-1.77),(743,-1.82),(747,-1.8),(750,-1.56),(752,-1.59),(755,-1.83),(756,-1.94),(758,-2.06),(761,-1.8),(764,-1.97),(767,-2.11),(768,-2.17),(773,-2.33),(775,-2.38),(778,-2.35),(781,-2.5),(783,-2.56),(785,-2.38),(790,-2.35),(793,-2.6),(796,-2.69),(799,-2.59),(804,-2.59),(807,-2.38),(809,-2.5),(811,-2.71),(814,-2.77),(817,-2.65),(820,-2.71),(823,-2.94),(824,-3.04),(825,-2.83),(828,-2.71),(829,-2.91),(830,-3.03),(832,-2.83),(835,-2.74),(838,-2.8),(841,-2.67),(843,-2.8),(846,-2.95),(849,-2.83)]
B1_GREY = [(660,-0.74),(661,-0.77),(662,0.0),(663,0.0),(664,0.0),(665,0.0),(666,0.0),(667,0.0),(668,0.0),(789,-2.14),(790,-2.19)]

B2_GREEN = [(1000,-2.48),(1002,-2.42),(1004,-2.39),(1006,-2.36),(1008,-2.35),(1009,-2.24),(1010,-2.39),(1011,-2.15),(1013,-2.29),(1015,-2.27),(1018,-2.24),(1020,-2.03),(1022,-2.14),(1023,-2.18),(1025,-2.08),(1027,-2.07),(1029,-2.15),(1032,-2.12),(1034,-2.08),(1036,-2.04),(1040,-2.0),(1043,-1.95),(1045,-1.9),(1048,-1.88),(1050,-1.79),(1052,-1.73),(1054,-1.66),(1057,-1.6),(1060,-1.56),(1062,-1.53),(1065,-1.52),(1068,-1.52),(1071,-1.5),(1073,-1.46),(1074,-1.55),(1076,-1.36),(1078,-1.45),(1080,-1.35),(1083,-1.33),(1086,-1.29),(1088,-1.26),(1090,-1.36),(1093,-1.27),(1095,-1.25),(1098,-1.21),(1099,-1.06),(1101,-1.14),(1103,-1.18),(1104,-1.01),(1105,-0.88),(1107,-0.85),(1110,-0.84),(1113,-0.82),(1114,-0.63),(1115,-0.5),(1117,-0.67),(1119,-0.61),(1121,-0.57),(1122,-0.51),(1123,-0.4),(1126,-0.43),(1129,-0.46),(1131,-0.49),(1134,-0.5),(1136,-0.43),(1138,-0.39),(1140,-0.27),(1141,-0.25),(1144,-0.19),(1146,-0.22),(1148,-0.23),(1151,-0.22),(1154,-0.16),(1157,-0.13),(1159,-0.11),(1161,-0.1),(1163,-0.095),(1165,-0.09),(1168,-0.095),(1170,-0.1),(1173,-0.1),(1175,-0.1),(1178,-0.095),(1181,-0.09),(1183,-0.088),(1186,-0.085),(1189,-0.082),(1192,-0.08),(1195,-0.077),(1198,-0.073),(1200,-0.07)]
B2_PINK = [(1000,-2.39),(1003,-2.41),(1006,-2.36),(1007,-2.22),(1009,-2.41),(1011,-2.07),(1013,-2.01),(1015,-2.24),(1018,-2.32),(1020,-2.27),(1023,-2.08),(1026,-2.04),(1029,-2.24),(1030,-2.36),(1032,-2.58),(1033,-2.65),(1035,-2.58),(1037,-2.28),(1039,-1.93),(1042,-2.0),(1043,-1.77),(1044,-1.69),(1047,-2.0),(1052,-1.86),(1053,-1.63),(1057,-1.55),(1059,-1.66),(1060,-1.36),(1063,-1.6),(1065,-1.69),(1067,-1.88),(1069,-1.97),(1070,-1.76),(1071,-1.45),(1073,-1.23),(1077,-1.28),(1080,-1.38),(1082,-1.35),(1086,-1.14),(1087,-1.23),(1090,-1.45),(1094,-1.22),(1098,-1.36),(1100,-0.98),(1103,-1.36),(1104,-1.23),(1105,-0.8),(1107,-1.04),(1109,-0.95),(1111,-0.74),(1113,-0.51),(1114,-0.34),(1115,-0.4),(1118,-0.58),(1121,-0.5),(1124,-0.4),(1127,-0.39),(1131,-0.58),(1136,-0.5),(1139,-0.19),(1141,-0.25),(1144,-0.12),(1147,-0.05),(1149,-0.06),(1152,-0.2),(1155,-0.03),(1157,-0.37),(1159,-0.01),(1165,-0.15),(1169,-0.16),(1170,-0.05),(1174,-0.03),(1175,-0.16),(1177,-0.03),(1180,-0.15),(1182,-0.16),(1185,-0.05),(1188,-0.03),(1193,-0.15),(1195,-0.05),(1199,0.0)]
B2_GREY = [(1078,-1.21),(1048,-2.21),(1142,0.07),(1145,0.1),(1164,0.18),(1166,0.0),(1163,-0.27),(1170,-0.35),(1172,-0.42),(1185,-0.26),(1190,-0.22),(1192,0.08),(1196,0.12),(1197,0.16),(1198,0.06)]

B3_GREEN = [(1300,-0.056),(1310,-0.05),(1320,-0.043),(1330,-0.04),(1340,-0.04),(1350,-0.043),(1360,-0.048),(1370,-0.053),(1380,-0.056),(1390,-0.054),(1400,-0.05),(1410,-0.046),(1420,-0.043),(1430,-0.038),(1440,-0.04),(1450,-0.045),(1460,-0.048),(1470,-0.05),(1480,-0.052),(1490,-0.055),(1500,-0.058)]
B3_PINK = [(1306,-0.07),(1308,-0.095),(1350,-0.035),(1354,-0.015),(1356,-0.095),(1364,-0.085),(1366,-0.08),(1376,-0.1),(1396,-0.09),(1404,-0.03),(1406,-0.06),(1405,-0.1),(1422,-0.02),(1439,-0.07),(1438,-0.015),(1444,-0.06),(1450,-0.005),(1467,-0.005),(1470,-0.08),(1479,-0.045),(1484,-0.04)]
B3_GREY = [(1301,0.0),(1317,0.0),(1319,0.0),(1321,0.0),(1323,0.0),(1325,0.0),(1327,0.0),(1329,0.0),(1331,0.0),(1333,0.0),(1335,0.0),(1337,0.0),(1339,0.0),(1341,0.0),(1343,0.0),(1345,0.0),(1347,0.0),(1403,0.0),(1405,0.0),(1408,0.0),(1410,0.0),(1412,0.0),(1414,0.0),(1416,0.0),(1418,0.0),(1420,0.0),(1422,0.0),(1424,0.0),(1426,0.0),(1432,0.0),(1434,0.0),(1441,0.0),(1469,0.0),(1476,0.0),(1479,0.0),(1481,0.0),(1483,0.0),(1486,0.0),(1491,0.0),(1499,0.0),
(1301,0.15),(1304,-0.15),(1305,-0.18),(1309,-0.23),(1310,-0.34),(1308,-0.36),(1311,-0.42),(1307,-0.62),(1309,-0.25),(1313,-0.13),(1315,0.15),(1316,0.18),(1324,0.13),(1331,0.19),(1332,0.18),(1341,0.07),(1348,0.1),(1351,0.04),(1352,0.13),(1353,0.2),(1356,-0.1),(1358,-0.16),(1359,-0.42),(1361,-0.54),(1363,-0.57),(1358,-0.59),(1362,-0.29),(1368,-0.22),(1369,-0.4),(1370,-0.48),(1371,-0.38),(1374,-0.21),(1374,-0.16),(1376,-0.17),(1378,-0.32),(1380,-0.27),(1382,-0.18),(1382,-0.36),(1384,-0.38),(1385,-0.45),(1387,-0.55),(1385,-0.41),(1390,-0.35),(1389,-0.38),(1393,-0.28),(1395,-0.28),(1393,-0.21),(1396,-0.14),(1397,-0.02),(1399,-0.08),(1402,-0.16),(1403,-0.26),(1404,-0.24),(1405,-0.32),(1406,-0.18),(1407,-0.3),(1407,-0.46),(1410,-0.29),(1411,0.04),(1412,0.15),(1414,0.06),(1417,0.19),(1418,-0.29),(1423,-0.2),(1424,-0.45),(1431,0.1),(1432,0.07),(1433,0.08),(1435,0.11),(1433,-0.12),(1437,0.07),(1439,0.05),(1443,-0.14),(1444,-0.2),(1447,0.05),(1448,0.11),(1449,0.1),(1443,0.18),(1453,-0.26),(1455,-0.34),(1456,-0.39),(1457,-0.14),(1457,-0.41),(1458,-0.44),(1460,-0.35),(1461,-0.17),(1461,-0.14),(1463,-0.58),(1459,-0.72),(1463,-0.32),(1464,-0.26),(1466,-0.3),(1467,-0.32),(1471,-0.3),(1472,-0.65),(1473,0.02),(1474,0.18),(1477,0.15),(1481,0.06),(1482,-0.12),(1486,-0.36),(1487,-0.44),(1490,-0.55),(1491,-0.59),(1492,-0.09),(1493,0.07),(1495,0.12),(1496,0.1)]

# ---------------- axes: ranges and ticks ----------------
A_MAIN_XTICKS = [0, 500, 1000, 1500, 2000, 2500, 3000, 3500]
A_MAIN_YTICKS = [0, -2, -4]
A1_XTICKS = [500, 550, 600, 650, 700]; A1_YTICKS = [0, -1, -2]
A2_XTICKS = [1300, 1400, 1500, 1600, 1700]; A2_YTICKS = [-2, -2.5, -3]
A3_XTICKS = [2850, 2900, 2950, 3000, 3050]; A3_YTICKS = [0, -0.5, -1]
B_MAIN_XTICKS = [0, 200, 400, 600, 800, 1000, 1200, 1400, 1600, 1800]
B_MAIN_YTICKS = [0, -1, -2, -3]
B1_XTICKS = [650, 700, 750, 800, 850]; B1_YTICKS = [0, -1, -2, -3]
B2_XTICKS = [1000, 1050, 1100, 1150, 1200]; B2_YTICKS = [0, -1, -2]
B3_XTICKS = [1300, 1350, 1400, 1450, 1500]; B3_YTICKS = [0, -0.2, -0.4, -0.6]

# zoom windows drawn on the overview panels: (x0, x1, y0, y1, edge colour, fill)
A_WINDOWS = [(500, 700, -2.47, 0.2, "rgb(214,188,104)", "rgba(240,215,150,0.12)"),
             (1300, 1700, -3.64, -1.43, "rgb(72,180,115)", "rgba(150,210,170,0.10)"),
             (2850, 3050, -1.3, 0.2, "rgb(140,140,140)", "rgba(200,200,200,0.10)")]
B_WINDOWS = [(650, 850, -3.3, 0.21, "rgb(214,188,104)", "rgba(240,215,150,0.12)"),
             (1000, 1200, -2.92, 0.21, "rgb(72,180,115)", "rgba(150,210,170,0.10)"),
             (1300, 1500, -0.79, 0.21, "rgb(140,140,140)", "rgba(200,200,200,0.10)")]
INSET_BG = ["#F7F1DC", "#DBF0E1", "#EDEDED"]


def xy(pts):
    s = sorted(pts)
    return [p[0] for p in s], [p[1] for p in s]


# pixel boxes (x0, x1, ytop, ybottom) and axis settings
PANELS = {
    1: dict(box=(359, 3808, 76, 615), xr=[0, 3775], yr=[-5.7, 0.2], xt=A_MAIN_XTICKS, yt=A_MAIN_YTICKS, main=True),
    2: dict(box=(357, 1280, 757, 1331), xr=[500, 700], yr=[-2.29, 0.2], xt=A1_XTICKS, yt=A1_YTICKS, bg=0),
    3: dict(box=(1601, 2525, 757, 1331), xr=[1300, 1700], yr=[-3.5, -1.6], xt=A2_XTICKS, yt=A2_YTICKS, bg=1),
    4: dict(box=(2885, 3810, 757, 1331), xr=[2850, 3050], yr=[-1.175, 0.2], xt=A3_XTICKS, yt=A3_YTICKS, bg=2),
    5: dict(box=(869, 3296, 1667, 2208), xr=[0, 1800], yr=[-3.8, 0.2], xt=B_MAIN_XTICKS, yt=B_MAIN_YTICKS, main=True),
    6: dict(box=(357, 1280, 2351, 2923), xr=[650, 850], yr=[-3.05, 0.003], xt=B1_XTICKS, yt=B1_YTICKS, bg=0),
    7: dict(box=(1601, 2525, 2351, 2923), xr=[1000, 1200], yr=[-2.7, 0.16], xt=B2_XTICKS, yt=B2_YTICKS, bg=1),
    8: dict(box=(2885, 3810, 2351, 2923), xr=[1300, 1500], yr=[-0.72, 0.195], xt=B3_XTICKS, yt=B3_YTICKS, bg=2),
}

fig = go.Figure()


def axn(i):
    return ("x", "y") if i == 1 else (f"x{i}", f"y{i}")


def add_scatter(i, pts, kind, main, mode="markers"):
    xa, ya = axn(i)
    x, y = xy(pts)
    if kind == "grey":
        mk = dict(symbol="circle", size=13 if main else 10, color=GREY, line=dict(width=0))
    elif kind == "pink":
        mk = dict(symbol="circle", size=24 if main else 19, color=PINK, line=dict(width=0))
    else:
        mk = dict(symbol="square", size=18 if main else 15, color=GREEN, line=dict(width=0))
    tr = go.Scatter(x=x, y=y, xaxis=xa, yaxis=ya, mode=mode, marker=mk,
                    showlegend=False, hoverinfo="skip")
    if mode == "lines":
        tr.line = dict(color=GREEN, width=18)
    fig.add_trace(tr)


A_ALL = {"grey": A_MAIN_GREY + A1_GREY + A2_GREY + A3_GREY,
         "pink": A_MAIN_PINK + A1_PINK + A2_PINK + A3_PINK,
         "green": A_MAIN_GREEN + A1_GREEN + A2_GREEN + A3_GREEN}
B_ALL = {"grey": B_MAIN_GREY + B1_GREY + B2_GREY + B3_GREY,
         "pink": B_MAIN_PINK + B1_PINK + B2_PINK + B3_PINK,
         "green": B_MAIN_GREEN + B1_GREEN + B2_GREEN + B3_GREEN}

for k in ["grey", "pink", "green"]:
    add_scatter(1, A_ALL[k], k, True)
insets_a = {2: (A1_GREY, A1_PINK, A1_GREEN), 3: (A2_GREY, A2_PINK, A2_GREEN), 4: (A3_GREY, A3_PINK, A3_GREEN)}
for i, (g, p, gr) in insets_a.items():
    add_scatter(i, g, "grey", False)
    add_scatter(i, p, "pink", False)
    add_scatter(i, gr, "green", False)

for k in ["grey", "pink", "green"]:
    add_scatter(5, B_ALL[k], k, True)
insets_b = {6: (B1_GREY, B1_PINK, B1_GREEN), 7: (B2_GREY, B2_PINK, B2_GREEN), 8: (B3_GREY, B3_PINK, B3_GREEN)}
for i, (g, p, gr) in insets_b.items():
    add_scatter(i, g, "grey", False)
    if i == 8:
        add_scatter(i, gr, "green", False, mode="lines")
        add_scatter(i, p, "pink", False)
    else:
        add_scatter(i, p, "pink", False)
        add_scatter(i, gr, "green", False)

# legend entries (one legend per panel)
LEG_STYLE = [dict(symbol="circle", color="#D7D7D7"), dict(symbol="circle", color=PINK),
             dict(symbol="square", color=GREEN)]
for leg, (xa, ya) in [("legend", ("x", "y")), ("legend2", ("x5", "y5"))]:
    for lab, st in zip(LEGEND_LABELS, LEG_STYLE):
        fig.add_trace(go.Scatter(x=[None], y=[None], xaxis=xa, yaxis=ya, mode="markers", name=lab,
                                 marker=dict(symbol=st["symbol"], size=40, color=st["color"],
                                             line=dict(width=5, color=st["color"])),
                                 legend=leg, showlegend=True))

layout = dict(width=W, height=H, margin=dict(l=0, r=0, t=0, b=0, pad=0, autoexpand=False),
              paper_bgcolor="white", plot_bgcolor="white",
              font=dict(family=FONT, color=INK))

shapes = []
for i, P in PANELS.items():
    x0, x1, yt, yb = P["box"]
    main = P.get("main", False)
    xa, ya = axn(i)
    xkey = "xaxis" if i == 1 else f"xaxis{i}"
    ykey = "yaxis" if i == 1 else f"yaxis{i}"
    common = dict(showline=True, linecolor="#222222", linewidth=5, mirror="allticks",
                  ticks="inside", tickcolor="#222222", tickwidth=5 if main else 4,
                  ticklen=34 if main else 12, showgrid=True, automargin=False,
                  gridcolor="#EBEBEB" if main else "rgba(190,190,190,0.35)", gridwidth=3,
                  zeroline=False, tickfont=dict(family=FONT, size=66 if main else 80, color=INK))
    xt = P["xt"]
    yt_ = P["yt"]
    xaxis = dict(common, domain=[x0 / W, x1 / W], range=P["xr"], anchor=ya, tickvals=xt,
                 ticklabelstandoff=0 if main else 8)
    if main:
        yaxis = dict(common, domain=[1 - yb / H, 1 - yt / H], range=P["yr"], anchor=xa, tickvals=yt_,
                     ticktext=[("-" + str(abs(v))) if v < 0 else str(v) for v in yt_],
                     ticklabelstandoff=0)
    else:
        yaxis = dict(common, domain=[1 - yb / H, 1 - yt / H], range=P["yr"], anchor=xa, tickvals=yt_,
                     ticklabelstandoff=20)
    layout[xkey] = xaxis
    layout[ykey] = yaxis
    if "bg" in P:
        shapes.append(dict(type="rect", xref=f"{xa} domain", yref=f"{ya} domain", x0=0, x1=1, y0=0, y1=1,
                           fillcolor=INSET_BG[P["bg"]], line=dict(width=0), layer="below"))

for (wins, xa, ya) in [(A_WINDOWS, "x", "y"), (B_WINDOWS, "x5", "y5")]:
    for (wx0, wx1, wy0, wy1, lc, fc) in wins:
        shapes.append(dict(type="rect", xref=xa, yref=ya, x0=wx0, x1=wx1, y0=wy0, y1=wy1,
                           line=dict(color=lc, width=6), fillcolor=fc, layer="above"))
layout["shapes"] = shapes

leg_common = dict(font=dict(family=FONT, size=67, color="black"), bgcolor="white",
                  bordercolor="#222222", borderwidth=4, itemsizing="trace",
                  xanchor="left", yanchor="top", tracegroupgap=0)
layout["legend"] = dict(leg_common, x=3040 / W, y=1 - 317 / H)
layout["legend2"] = dict(leg_common, x=2537 / W, y=1 - 1909 / H)

ann = []
TITLE_SIZE = 84


def label(text, px, py, size, angle=0):
    ann.append(dict(text=text, x=px / W, y=1 - py / H, xref="paper", yref="paper", showarrow=False,
                    xanchor="center", yanchor="middle", textangle=angle,
                    font=dict(size=size, family=FONT, color=INK)))


label("(a)", 93, 72, 72)
label("(b)", 95, 1662, 72)
label("Subsidence / m", 72, 755, TITLE_SIZE, -90)
label("Subsidence / m", 72, 2340, TITLE_SIZE, -90)
label("Distance / m", W / 2, 1527, TITLE_SIZE)
label("Distance / m", W / 2, 3118, TITLE_SIZE)
layout["annotations"] = ann

fig.update_layout(**layout)
fig.write_html("out.html")
